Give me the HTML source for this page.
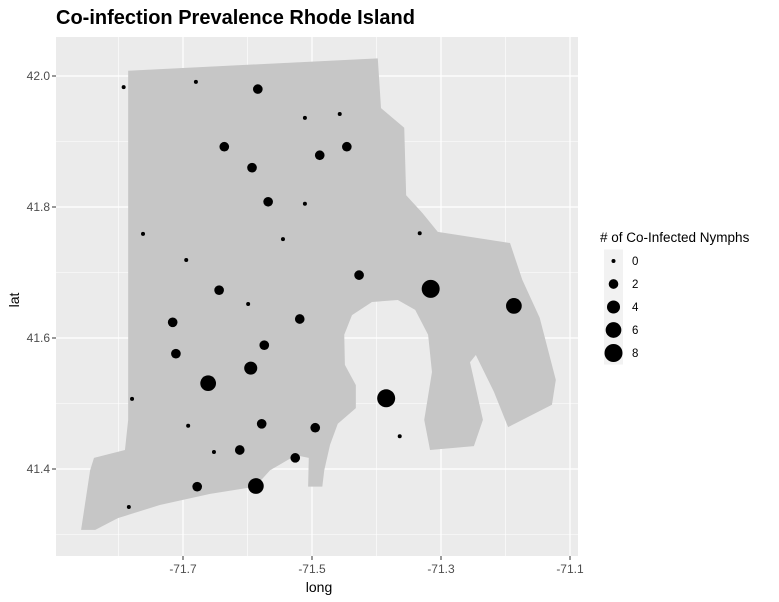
<!DOCTYPE html>
<html><head><meta charset="utf-8"><style>
body{margin:0;background:#fff;}
svg{display:block;font-family:"Liberation Sans",Arial,sans-serif;}
</style></head><body>
<svg id="chart" width="779" height="602">
<rect width="779" height="602" fill="#fff"/>
<text x="56" y="24" font-size="20" font-weight="bold" fill="#000">Co-infection Prevalence Rhode Island</text>
<rect id="panel" x="56" y="37" width="522" height="519" fill="#ebebeb"/>
<g id="grid"></g>
<g id="map"></g>
<g id="pts"></g>
<g id="axes"></g>
<text x="319" y="592" font-size="14" text-anchor="middle" fill="#000">long</text>
<text transform="translate(19,300) rotate(-90)" font-size="14" text-anchor="middle" fill="#000">lat</text>
<g id="legend">
<text x="600" y="242" font-size="13.5" fill="#000"># of Co-Infected Nymphs</text>
</g>
</svg>
<script>
const NS="http://www.w3.org/2000/svg";
const lons=[-71.792,-71.680,-71.584,-71.511,-71.457,-71.636,-71.446,-71.488,-71.593,-71.568,-71.511,-71.762,-71.545,-71.333,-71.695,-71.427,-71.316,-71.187,-71.644,-71.599,-71.519,-71.716,-71.574,-71.711,-71.595,-71.661,-71.385,-71.779,-71.578,-71.692,-71.495,-71.364,-71.652,-71.612,-71.526,-71.678,-71.587,-71.784];
const lats=[41.983,41.991,41.980,41.936,41.942,41.892,41.892,41.879,41.860,41.808,41.805,41.759,41.751,41.760,41.719,41.696,41.675,41.649,41.673,41.652,41.629,41.624,41.589,41.576,41.554,41.531,41.508,41.507,41.469,41.466,41.463,41.450,41.426,41.429,41.417,41.373,41.374,41.342];
const counts=[0,0,2,0,0,2,2,2,2,2,0,0,0,0,0,2,8,6,2,0,2,2,2,2,4,6,8,0,2,0,2,0,0,2,2,2,6,0];
const stateLon=[-71.785,-71.398,-71.393,-71.357,-71.354,-71.329,-71.305,-71.193,-71.174,-71.147,-71.122,-71.128,-71.196,-71.218,-71.246,-71.255,-71.235,-71.249,-71.317,-71.326,-71.314,-71.320,-71.340,-71.367,-71.407,-71.438,-71.450,-71.449,-71.432,-71.432,-71.460,-71.472,-71.481,-71.484,-71.506,-71.505,-71.525,-71.565,-71.588,-71.658,-71.736,-71.801,-71.836,-71.858,-71.844,-71.838,-71.790,-71.785];
const stateLat=[42.008,42.027,41.951,41.921,41.818,41.791,41.762,41.745,41.689,41.631,41.536,41.498,41.464,41.518,41.574,41.563,41.475,41.435,41.429,41.475,41.548,41.605,41.643,41.658,41.655,41.635,41.605,41.559,41.528,41.493,41.469,41.437,41.398,41.373,41.373,41.417,41.421,41.398,41.373,41.362,41.345,41.325,41.307,41.307,41.398,41.417,41.429,41.475];
const xTicks=[-71.7,-71.5,-71.3,-71.1];
const xMinor=[-71.8,-71.6,-71.4,-71.2];
const yTicks=[41.4,41.6,41.8,42.0];
const yMinor=[41.3,41.5,41.7,41.9];
const legendVals=[0,2,4,6,8];
const PL=56,PR=578,PT=37,PB=556;
function X(v){return 183+(v+71.7)*645;}
function Y(v){return 76+(42.0-v)*655;}
function R(c){return Math.sqrt(4+77*c/8);}
const grid=document.getElementById('grid');
xMinor.forEach(v=>{const l=document.createElementNS(NS,'line');l.setAttribute('x1',X(v));l.setAttribute('x2',X(v));l.setAttribute('y1',PT);l.setAttribute('y2',PB);l.setAttribute('stroke','#fff');l.setAttribute('stroke-width','0.6');

grid.appendChild(l);});
yMinor.forEach(v=>{const l=document.createElementNS(NS,'line');l.setAttribute('y1',Y(v));l.setAttribute('y2',Y(v));l.setAttribute('x1',PL);l.setAttribute('x2',PR);l.setAttribute('stroke','#fff');l.setAttribute('stroke-width','0.6');

grid.appendChild(l);});
xTicks.forEach(v=>{const l=document.createElementNS(NS,'line');l.setAttribute('x1',X(v));l.setAttribute('x2',X(v));l.setAttribute('y1',PT);l.setAttribute('y2',PB);l.setAttribute('stroke','#fff');l.setAttribute('stroke-width','1.2');

grid.appendChild(l);});
yTicks.forEach(v=>{const l=document.createElementNS(NS,'line');l.setAttribute('y1',Y(v));l.setAttribute('y2',Y(v));l.setAttribute('x1',PL);l.setAttribute('x2',PR);l.setAttribute('stroke','#fff');l.setAttribute('stroke-width','1.2');

grid.appendChild(l);});
const poly=document.createElementNS(NS,'polygon');
poly.setAttribute('points',stateLon.map((v,i)=>X(v)+','+Y(stateLat[i])).join(' '));
poly.setAttribute('fill','#c6c6c6');


document.getElementById('map').appendChild(poly);
const pts=document.getElementById('pts');
lons.forEach((v,i)=>{const c=document.createElementNS(NS,'circle');c.setAttribute('cx',X(v));c.setAttribute('cy',Y(lats[i]));c.setAttribute('r',R(counts[i]));c.setAttribute('fill','#000');

pts.appendChild(c);});
const axes=document.getElementById('axes');
xTicks.forEach(v=>{const l=document.createElementNS(NS,'line');l.setAttribute('x1',X(v));l.setAttribute('x2',X(v));l.setAttribute('y1',PB);l.setAttribute('y2',PB+4);l.setAttribute('stroke','#333');

axes.appendChild(l);
const t=document.createElementNS(NS,'text');t.setAttribute('x',X(v));t.setAttribute('y',PB+17);t.setAttribute('text-anchor','middle');t.setAttribute('font-size','12');t.setAttribute('fill','#4d4d4d');t.textContent=v.toFixed(1);

axes.appendChild(t);});
yTicks.forEach(v=>{const l=document.createElementNS(NS,'line');l.setAttribute('x1',PL-4);l.setAttribute('x2',PL);l.setAttribute('y1',Y(v));l.setAttribute('y2',Y(v));l.setAttribute('stroke','#333');

axes.appendChild(l);
const t=document.createElementNS(NS,'text');t.setAttribute('x',PL-6);t.setAttribute('y',Y(v)+4);t.setAttribute('text-anchor','end');t.setAttribute('font-size','12');t.setAttribute('fill','#4d4d4d');t.textContent=v.toFixed(1);

axes.appendChild(t);});
const lg=document.getElementById('legend');
legendVals.forEach((v,i)=>{const cy=261+i*23;
const bg=document.createElementNS(NS,'rect');bg.setAttribute('x',604);bg.setAttribute('y',cy-11.5);bg.setAttribute('width',19);bg.setAttribute('height',23);bg.setAttribute('fill','#f2f2f2');

lg.appendChild(bg);
const c=document.createElementNS(NS,'circle');c.setAttribute('cx',613.5);c.setAttribute('cy',cy);c.setAttribute('r',R(v));c.setAttribute('fill','#000');

lg.appendChild(c);
const t=document.createElementNS(NS,'text');t.setAttribute('x',632);t.setAttribute('y',cy+4);t.setAttribute('font-size','11.5');t.setAttribute('fill','#000');t.textContent=v;

lg.appendChild(t);});
</script>
</body></html>
